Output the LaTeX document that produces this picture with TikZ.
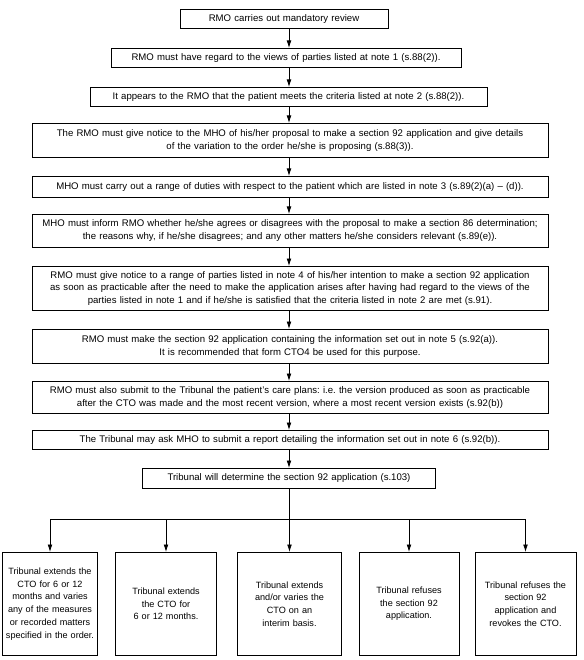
\documentclass[tikz,border=0pt]{standalone}
\usepackage{fontspec}
\setmainfont{Liberation Sans}
\usetikzlibrary{arrows.meta}
\frenchspacing
\tikzset{
  box/.style={draw, line width=0.8pt, anchor=north, inner xsep=0pt, inner ysep=0pt, align=center,
    font=\fontsize{9.6}{12.8}\selectfont},
  sbox/.style={box, font=\fontsize{9.1}{12.7}\selectfont, minimum height=103pt},
  arr/.style={line width=0.8pt, -{Latex[length=7.5pt,width=4.8pt]}},
  ln/.style={line width=0.8pt}
}
\begin{document}
\begin{tikzpicture}[x=1pt,y=-1pt]
\useasboundingbox (0,0) rectangle (583,660);
\coordinate (ax) at (289,0);
\coordinate (hl) at (0,519);
\node[box, text width=208pt, minimum height=19pt] (b1) at (284,9) {RMO carries out mandatory review};
\node[box, text width=350pt, minimum height=19pt] (b2) at (286,48) {RMO must have regard to the views of parties listed at note 1 (s.88(2)).};
\node[box, text width=397pt, minimum height=19pt] (b3) at (288.5,87) {It appears to the RMO that the patient meets the criteria listed at note 2 (s.88(2)).};
\node[box, text width=516pt, minimum height=34pt] (b4) at (290,123) {The RMO must give notice to the MHO of his/her proposal to make a section 92 application and give details\\of the variation to the order he/she is proposing (s.88(3)).};
\node[box, text width=516pt, minimum height=21pt] (b5) at (290,176) {MHO must carry out a range of duties with respect to the patient which are listed in note 3 (s.89(2)(a) -- (d)).};
\node[box, text width=516pt, minimum height=33pt] (b6) at (290,214) {MHO must inform RMO whether he/she agrees or disagrees with the proposal to make a section 86 determination;\\the reasons why, if he/she disagrees; and any other matters he/she considers relevant (s.89(e)).};
\node[box, text width=516pt, minimum height=44pt] (b7) at (290,266) {RMO must give notice to a range of parties listed in note 4 of his/her intention to make a section 92 application\\as soon as practicable after the need to make the application arises after having had regard to the views of the\\parties listed in note 1 and if he/she is satisfied that the criteria listed in note 2 are met (s.91).};
\node[box, text width=516pt, minimum height=34pt] (b8) at (290,329) {RMO must make the section 92 application containing the information set out in note 5 (s.92(a)).\\It is recommended that form CTO4 be used for this purpose.};
\node[box, text width=516pt, minimum height=32pt] (b9) at (290,381) {RMO must also submit to the Tribunal the patient's care plans: i.e. the version produced as soon as practicable\\after the CTO was made and the most recent version, where a most recent version exists (s.92(b))};
\node[box, text width=516pt, minimum height=19pt] (b10) at (290,430) {The Tribunal may ask MHO to submit a report detailing the information set out in note 6 (s.92(b)).};
\node[box, text width=293pt, minimum height=20pt] (b11) at (289,468) {Tribunal will determine the section 92 application (s.103)};
\node[sbox, text width=95pt] (c1) at (50,552) {Tribunal extends the\\CTO for 6 or 12\\months and varies\\any of the measures\\or recorded matters\\specified in the order.};
\node[sbox, text width=101pt] (c2) at (166,552) {Tribunal extends\\the CTO for\\6 or 12 months.};
\node[sbox, text width=104pt] (c3) at (289.5,552) {Tribunal extends\\and/or varies the\\CTO on an\\interim basis.};
\node[sbox, text width=100pt] (c4) at (409,552) {Tribunal refuses\\the section 92\\application.};
\node[sbox, text width=101pt] (c5) at (525.5,552) {Tribunal refuses the\\section 92\\application and\\revokes the CTO.};
\foreach \a/\b in {b1/b2,b2/b3,b3/b4,b4/b5,b5/b6,b6/b7,b7/b8,b8/b9,b9/b10,b10/b11}
  \draw[arr] (\a.south -| ax) -- (\b.north -| ax);
\draw[ln] (b11.south -| ax) -- (ax |- hl);
\draw[ln] (c1.north |- hl) -- (c5.north |- hl);
\foreach \c in {c1,c2,c3,c4,c5}
  \draw[arr] (\c.north |- hl) -- (\c.north);
\end{tikzpicture}
\end{document}
